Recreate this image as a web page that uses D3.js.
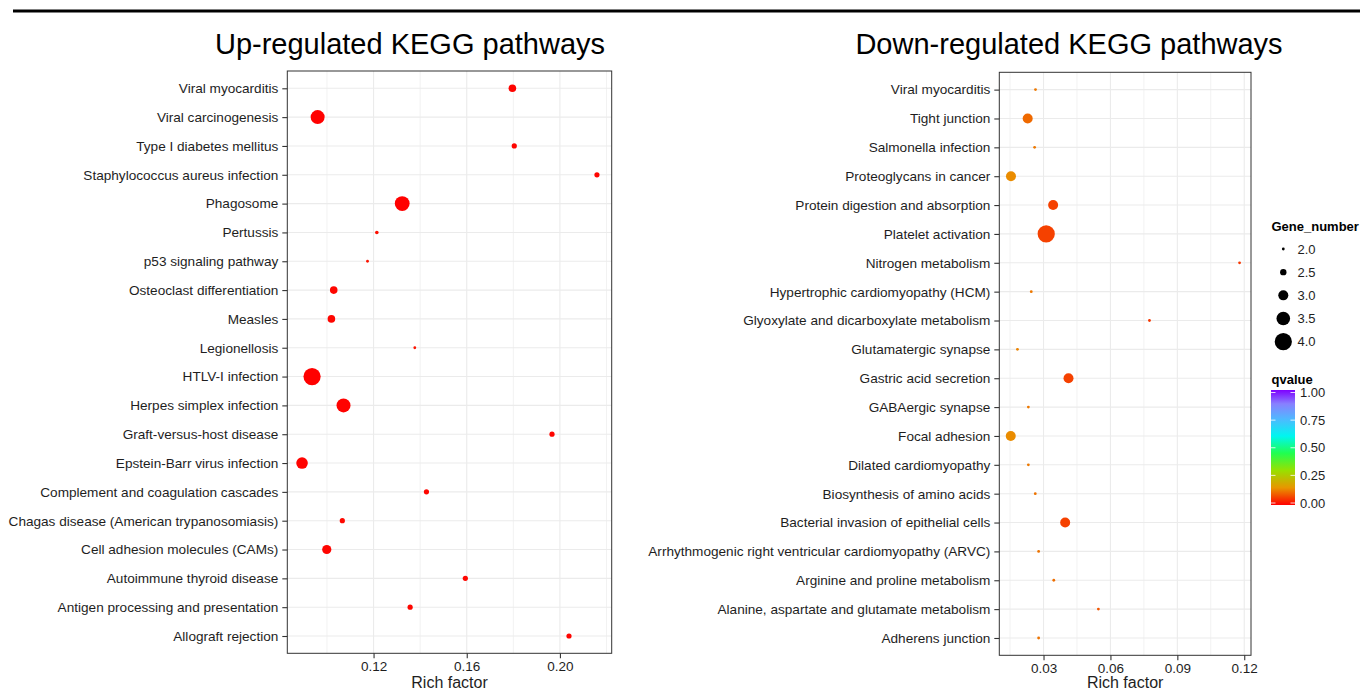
<!DOCTYPE html>
<html>
<head>
<meta charset="utf-8">
<script src="https://cdnjs.cloudflare.com/ajax/libs/d3/7.8.5/d3.min.js"></script>
<style>
  html, body { margin: 0; padding: 0; background: #fff; }
  svg { display: block; font-family: "Liberation Sans", Arial, Helvetica, sans-serif; }
</style>
</head>
<body>
<svg id="chart" width="1360" height="691"></svg>
<script>
// ---- Up-regulated pathways (listed top to bottom) ----
const upPathways = [
  "Viral myocarditis", "Viral carcinogenesis", "Type I diabetes mellitus",
  "Staphylococcus aureus infection", "Phagosome", "Pertussis",
  "p53 signaling pathway", "Osteoclast differentiation", "Measles",
  "Legionellosis", "HTLV-I infection", "Herpes simplex infection",
  "Graft-versus-host disease", "Epstein-Barr virus infection",
  "Complement and coagulation cascades",
  "Chagas disease (American trypanosomiasis)", "Cell adhesion molecules (CAMs)",
  "Autoimmune thyroid disease", "Antigen processing and presentation",
  "Allograft rejection"
];
const upRichFactor = [
  0.1796, 0.0960, 0.1804, 0.2159, 0.1323, 0.1214, 0.1174, 0.1029, 0.1019, 0.1377,
  0.0936, 0.1071, 0.1966, 0.0893, 0.1427, 0.1066, 0.0999, 0.1594, 0.1357, 0.2039
];
const upGeneNumber = [14, 22, 11, 11, 23, 9, 8, 14, 14, 8, 26, 22, 11, 19, 11, 11, 16, 11, 11, 11];
const upQvalue = [
  0.004, 0.001, 0.005, 0.005, 0.001, 0.015, 0.02, 0.006, 0.006, 0.02,
  0.001, 0.002, 0.005, 0.003, 0.006, 0.008, 0.004, 0.006, 0.006, 0.005
];

// ---- Down-regulated pathways (listed top to bottom) ----
const downPathways = [
  "Viral myocarditis", "Tight junction", "Salmonella infection",
  "Proteoglycans in cancer", "Protein digestion and absorption",
  "Platelet activation", "Nitrogen metabolism",
  "Hypertrophic cardiomyopathy (HCM)", "Glyoxylate and dicarboxylate metabolism",
  "Glutamatergic synapse", "Gastric acid secretion", "GABAergic synapse",
  "Focal adhesion", "Dilated cardiomyopathy", "Biosynthesis of amino acids",
  "Bacterial invasion of epithelial cells",
  "Arrhythmogenic right ventricular cardiomyopathy (ARVC)",
  "Arginine and proline metabolism", "Alanine, aspartate and glutamate metabolism",
  "Adherens junction"
];
const downRichFactor = [
  0.0264, 0.0229, 0.0260, 0.0154, 0.0343, 0.0312, 0.1179, 0.0245, 0.0775, 0.0183,
  0.0412, 0.0232, 0.0153, 0.0232, 0.0263, 0.0397, 0.0278, 0.0346, 0.0546, 0.0278
];
const downGeneNumber = [2, 3, 2, 3, 3, 4, 2, 2, 2, 2, 3, 2, 3, 2, 2, 3, 2, 2, 2, 2];
const downQvalue = [
  0.12, 0.105, 0.12, 0.14, 0.065, 0.065, 0.055, 0.12, 0.055, 0.13,
  0.065, 0.12, 0.14, 0.12, 0.115, 0.065, 0.115, 0.11, 0.085, 0.115
];

// ---- Axis ticks and legend ----
const upMajorTicks = [0.12, 0.16, 0.20];
const upMinorTicks = [0.10, 0.14, 0.18, 0.22];
const downMajorTicks = [0.03, 0.06, 0.09, 0.12];
const downMinorTicks = [0.015, 0.045, 0.075, 0.105];
const geneLegendValues = [2.0, 2.5, 3.0, 3.5, 4.0];
const qvalueLegendTicks = [0, 0.25, 0.5, 0.75, 1];
const qvalueStops = [0, 0.15, 0.3, 0.45, 0.6, 0.75, 0.88, 1];
const qvalueColors = ["#FF0000", "#E89600", "#98E000", "#20FF50", "#00F6F0", "#50B8FF", "#8880FF", "#7F00FF"];

const svg = d3.select("#chart");
svg.append("rect").attr("width", 1360).attr("height", 691).attr("fill", "#fff");

// heavy rule across the top of the figure
svg.append("line")
  .attr("x1", 13).attr("x2", 1360).attr("y1", 11).attr("y2", 11)
  .attr("stroke", "#000").attr("stroke-width", 3);

const colorScale = d3.scaleLinear().domain(qvalueStops).range(qvalueColors)
  .interpolate(d3.interpolateRgb).clamp(true);

const R_MIN = 1.4, R_MAX = 8.6;

function drawPanel(cfg) {
  const rows = cfg.pathways.map((p, i) => ({
    pathway: p, rich: cfg.rich[i], genes: cfg.genes[i], q: cfg.q[i]
  }));

  // ggplot-style 5% expansion of the continuous axis
  const [lo, hi] = d3.extent(cfg.rich);
  const pad = (hi - lo) * 0.05;
  const x = d3.scaleLinear().domain([lo - pad, hi + pad]).range([cfg.left, cfg.right]);
  const y = d3.scalePoint().domain(cfg.pathways).range([cfg.top, cfg.bottom]).padding(0.6);
  const r = d3.scaleLinear().domain(d3.extent(cfg.genes)).range([R_MIN, R_MAX]);

  const g = svg.append("g");

  // grid
  g.append("g").selectAll("line").data(cfg.minorTicks).join("line")
    .attr("x1", d => x(d)).attr("x2", d => x(d))
    .attr("y1", cfg.top).attr("y2", cfg.bottom)
    .attr("stroke", "#F2F2F2").attr("stroke-width", 1);
  g.append("g").selectAll("line").data(cfg.majorTicks).join("line")
    .attr("x1", d => x(d)).attr("x2", d => x(d))
    .attr("y1", cfg.top).attr("y2", cfg.bottom)
    .attr("stroke", "#EBEBEB").attr("stroke-width", 1.1);
  g.append("g").selectAll("line").data(cfg.pathways).join("line")
    .attr("x1", cfg.left).attr("x2", cfg.right)
    .attr("y1", d => y(d)).attr("y2", d => y(d))
    .attr("stroke", "#EBEBEB").attr("stroke-width", 1.1);

  // points
  g.append("g").selectAll("circle").data(rows).join("circle")
    .attr("cx", d => x(d.rich)).attr("cy", d => y(d.pathway))
    .attr("r", d => r(d.genes))
    .attr("fill", d => colorScale(d.q));

  // panel border
  g.append("rect")
    .attr("x", cfg.left).attr("y", cfg.top)
    .attr("width", cfg.right - cfg.left).attr("height", cfg.bottom - cfg.top)
    .attr("fill", "none").attr("stroke", "#333").attr("stroke-width", 1);

  // y axis
  const ya = g.append("g").attr("transform", `translate(${cfg.left},0)`)
    .call(d3.axisLeft(y).tickSize(5).tickPadding(4));
  ya.select(".domain").remove();
  ya.selectAll(".tick line").attr("stroke", "#333").attr("stroke-width", 1.1);
  ya.selectAll(".tick text").attr("fill", "#1e1e1e")
    .style("font-size", "13.6px").style("font-family", "'Liberation Sans', Arial, sans-serif");

  // x axis
  const xa = g.append("g").attr("transform", `translate(0,${cfg.bottom})`)
    .call(d3.axisBottom(x).tickValues(cfg.majorTicks).tickFormat(d3.format(".2f")).tickSize(5).tickPadding(3));
  xa.select(".domain").remove();
  xa.selectAll(".tick line").attr("stroke", "#333").attr("stroke-width", 1.1);
  xa.selectAll(".tick text").attr("fill", "#1e1e1e")
    .style("font-size", "13.5px").style("font-family", "'Liberation Sans', Arial, sans-serif");

  // axis title
  g.append("text")
    .attr("x", (cfg.left + cfg.right) / 2).attr("y", 688)
    .attr("text-anchor", "middle").attr("fill", "#1e1e1e")
    .style("font-size", "16px").text("Rich factor");

  // plot title
  g.append("text")
    .attr("x", cfg.titleX).attr("y", 54)
    .attr("text-anchor", "middle").attr("fill", "#000")
    .style("font-size", "29px").text(cfg.title);

  return r;
}

drawPanel({
  title: "Up-regulated KEGG pathways", titleX: 410,
  pathways: upPathways, rich: upRichFactor, genes: upGeneNumber, q: upQvalue,
  majorTicks: upMajorTicks, minorTicks: upMinorTicks,
  left: 287.3, right: 611.7, top: 71, bottom: 653.3
});

const downR = drawPanel({
  title: "Down-regulated KEGG pathways", titleX: 1069,
  pathways: downPathways, rich: downRichFactor, genes: downGeneNumber, q: downQvalue,
  majorTicks: downMajorTicks, minorTicks: downMinorTicks,
  left: 999.3, right: 1251, top: 72.3, bottom: 655.3
});

// ---- Legend: Gene_number ----
const leg = svg.append("g");
leg.append("text").attr("x", 1271.5).attr("y", 231)
  .style("font-size", "13px").style("font-weight", "bold").attr("fill", "#000")
  .text("Gene_number");
const legY = d3.scalePoint().domain(geneLegendValues).range([249, 341.7]);
leg.selectAll("circle.sz").data(geneLegendValues).join("circle")
  .attr("class", "sz")
  .attr("cx", 1283.3).attr("cy", d => legY(d))
  .attr("r", d => downR(d)).attr("fill", "#000");
leg.selectAll("text.sz").data(geneLegendValues).join("text")
  .attr("class", "sz")
  .attr("x", 1297.5).attr("y", d => legY(d) + 4.6)
  .style("font-size", "13px").attr("fill", "#1e1e1e")
  .text(d => d3.format(".1f")(d));

// ---- Legend: qvalue colour bar ----
leg.append("text").attr("x", 1271.5).attr("y", 384)
  .style("font-size", "13px").style("font-weight", "bold").attr("fill", "#000")
  .text("qvalue");
const grad = svg.append("defs").append("linearGradient")
  .attr("id", "qgrad").attr("x1", 0).attr("x2", 0).attr("y1", 1).attr("y2", 0);
grad.selectAll("stop").data(qvalueStops).join("stop")
  .attr("offset", d => d).attr("stop-color", d => colorScale(d));
const barTop = 390, barBottom = 505, barLeft = 1271, barW = 24;
leg.append("rect").attr("x", barLeft).attr("y", barTop)
  .attr("width", barW).attr("height", barBottom - barTop)
  .attr("fill", "url(#qgrad)");
const qY = d3.scaleLinear().domain([0, 1]).range([503, 392.5]);
leg.selectAll("line.ql").data(qvalueLegendTicks).join("line")
  .attr("class", "ql")
  .attr("x1", barLeft).attr("x2", barLeft + 4.5)
  .attr("y1", d => qY(d)).attr("y2", d => qY(d))
  .attr("stroke", "#fff").attr("stroke-opacity", 0.8);
leg.selectAll("line.qr").data(qvalueLegendTicks).join("line")
  .attr("class", "qr")
  .attr("x1", barLeft + barW - 4.5).attr("x2", barLeft + barW)
  .attr("y1", d => qY(d)).attr("y2", d => qY(d))
  .attr("stroke", "#fff").attr("stroke-opacity", 0.8);
leg.selectAll("text.qt").data(qvalueLegendTicks).join("text")
  .attr("class", "qt")
  .attr("x", 1300).attr("y", d => qY(d) + 4.6)
  .style("font-size", "13px").attr("fill", "#1e1e1e")
  .text(d => d3.format(".2f")(d));
</script>
</body>
</html>
